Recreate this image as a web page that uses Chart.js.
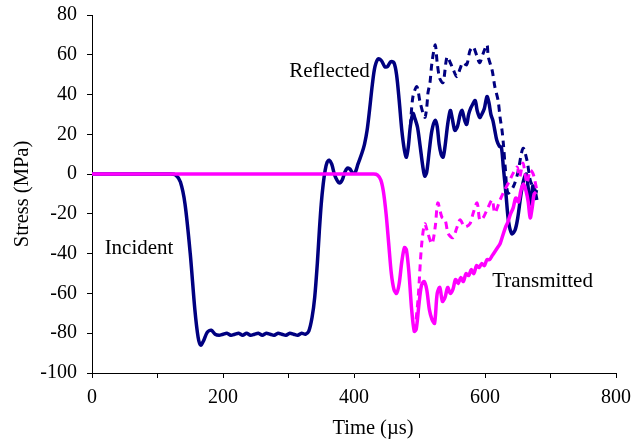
<!DOCTYPE html>
<html>
<head>
<meta charset="utf-8">
<script src="https://cdn.jsdelivr.net/npm/chart.js@4.4.1/dist/chart.umd.min.js"></script>
<style>
html,body{margin:0;padding:0;background:#fff;}
#wrap{width:638px;height:440px;position:relative;}
</style>
</head>
<body>
<div id="wrap"><canvas id="c" width="638" height="440"></canvas></div>
<script>
// Incident + reflected wave (solid navy)
const incRefTime = [0,120,128,135,142,150,157,162,166,170,176,182,188,194,200,206,212,218,224,230,236,242,248,254,260,266,272,278,284,290,296,302,308,314,320,326,331,336,340,344,347,350,353,356,359,362,366,370,374,378,382,386,390,394,398,402,406,412,416,420,424,428,432,437,442,447,451,456,461,465,469,473,477,480,483,486,490,493,497,501,505,508,511,515,519,524,527,530,533,536,539,543,547,550,554,558,562,565,569,572,575,578,581,585,588,592,595,599,603,606,609,612,615,618,622,625,628,632,636,641,646,650,655,659,663,667,670,673,676,679];
const incRefStress = [0,0,-0.5,-4,-15,-40,-68,-82,-86,-84,-79.5,-78.5,-80.5,-81,-80.5,-80,-81,-80.5,-80,-81,-80,-81,-80.5,-80,-81,-80,-80.5,-81,-80,-80.5,-81,-80,-80.5,-81,-80,-80.5,-79,-72,-62,-45,-29,-15,-5,2,6,7,5,0,-3,-4.5,-3,1,3,2.5,0.5,1,5,10.5,15,22,33,45,54,58,57,54,54,56.5,56,50,37,22,12,8.5,14,24,30.5,28,23.5,14,4,-1,1,12,22,27,24,15,10,8.5,14,25,32,28,22,24,30,32,27,25,30,33,35,37,32,28.5,30,33,39,36,30,27,22,17,14,13.5,3.5,-10,-24,-30,-28,-22,-10,-3,0,-10,-15,-6,-8,-13];

// Reflected wave, second record (dashed navy)
const refDashTime = [486,490,496,501,508,511,513,516,519,524,527,531,536,542,547,551,557,562,566,572,577,582,588,592,597,603,605,611,615,620,623,626,628,631,635,643,650,658,664,669,673,676,679];
const refDashStress = [24,39,44,36,28.5,33.5,41,46,56,65,56,48,46,59,56,53,49,53,56,55,62,64,59,56,60.5,65,59,52,44,37,28.5,22,15.5,3,-9.5,-6.5,0.5,13,7,-3,-6.5,-11.5,-8];

// Transmitted wave (solid magenta)
const transTime = [0,430,436,441,445,449,453,457,461,465,469,473,477,480,484,488,492,495,499,503,507,511,515,519,523,527,531,535,539,543,547,551,555,559,563,567,571,575,579,583,587,591,595,599,603,607,611,615,619,623,627,631,635,639,643,647,651,655,659,663,666,669,672,675,678];
const transStress = [0,0,-0.5,-3,-9,-20,-35,-50,-58,-60,-55,-44,-37,-38,-50,-68,-79,-78,-66,-56,-54,-58,-68,-73,-75,-60,-57,-64,-62,-57,-60,-58,-53,-55,-52,-54,-50,-51,-48,-50,-46,-47,-45,-46,-43,-43,-41,-39,-37,-35,-31,-27,-24,-20,-17,-12,-14,-8,-5,-9,-14,-22,-17,-10,-9];

// Transmitted wave, second record (dashed magenta)
const transDashTime = [493,498,503,508,513,519,524,528,534,539,544,551,557,562,569,577,582,588,592,597,603,611,615,623,630,638,643,649,653,658,664,669,673,676,679];
const transDashStress = [-79,-62,-36.5,-25,-30,-35,-26.5,-14.5,-21.5,-23,-30,-32,-27,-23,-26.5,-25,-19.5,-14.5,-23,-22,-18,-13,-19.5,-13,-8,-3,0.5,3.5,-1.5,5.5,-4.5,2,0.5,-3,-8];

const xTicks = [0,100,200,300,400,500,600,700,800];
const yTicks = [-100,-80,-60,-40,-20,0,20,40,60,80];

const labels = [
  {text:'Reflected', x:362.6, y:48.8},
  {text:'Incident', x:71.8, y:-40.2},
  {text:'Transmitted', x:687.8, y:-56.8}
];

const FONT = "'Liberation Serif', 'Times New Roman', serif";
const pts = (xs, ys) => xs.map((x, i) => ({x: x, y: ys[i]}));

const NAVY = '#000080', MAG = '#FF00FF';

const textPlugin = {
  id: 'texts',
  afterDraw(chart) {
    const ctx = chart.ctx, xs = chart.scales.x, ys = chart.scales.y;
    ctx.save();
    ctx.fillStyle = '#000';
    ctx.textAlign = 'center';
    ctx.textBaseline = 'alphabetic';
    ctx.font = '21px ' + FONT;
    labels.forEach(l => ctx.fillText(l.text, xs.getPixelForValue(l.x), ys.getPixelForValue(l.y)));
    // axis titles
    ctx.font = '20.5px ' + FONT;
    ctx.fillText('Time (\u00b5s)', 373, 434);
    ctx.translate(28, 194);
    ctx.rotate(-Math.PI / 2);
    ctx.fillText('Stress (MPa)', 0, 0);
    ctx.restore();
  }
};

new Chart(document.getElementById('c'), {
  type: 'scatter',
  data: {
    datasets: [
      {data: pts(transTime, transStress), borderColor: MAG, borderWidth: 3.5, showLine: true, pointRadius: 0, tension: 0.3},
      {data: pts(transDashTime, transDashStress), borderColor: MAG, borderWidth: 3, borderDash: [7, 5], showLine: true, pointRadius: 0, tension: 0.3},
      {data: pts(refDashTime, refDashStress), borderColor: NAVY, borderWidth: 3, borderDash: [7, 5], showLine: true, pointRadius: 0, tension: 0.3},
      {data: pts(incRefTime, incRefStress), borderColor: NAVY, borderWidth: 3.5, showLine: true, pointRadius: 0, tension: 0.3}
    ]
  },
  options: {
    responsive: false,
    animation: false,
    devicePixelRatio: 1,
    layout: {padding: {left: 0, right: 22, top: 15, bottom: 0}},
    plugins: {legend: {display: false}, tooltip: {enabled: false}},
    scales: {
      x: {
        type: 'linear', min: 0, max: 800,
        afterBuildTicks: s => { s.ticks = xTicks.map(v => ({value: v})); },
        afterFit: s => { s.height = 67; s.paddingLeft = 0; s.paddingRight = 0; },
        border: {display: true, color: '#000', width: 1},
        grid: {display: true, drawOnChartArea: false, drawTicks: true, tickLength: 5, color: '#000'},
        ticks: {color: '#000', font: {family: FONT, size: 20}, padding: 8, maxRotation: 0, autoSkip: false,
          callback: v => (v % 200 === 0 ? String(v) : '')}
      },
      y: {
        type: 'linear', min: -100, max: 80,
        afterBuildTicks: s => { s.ticks = yTicks.map(v => ({value: v})); },
        afterFit: s => { s.width = 92; s.paddingTop = 0; s.paddingBottom = 0; },
        border: {display: true, color: '#000', width: 1},
        grid: {display: true, drawOnChartArea: false, drawTicks: true, tickLength: 5, color: '#000'},
        ticks: {color: '#000', font: {family: FONT, size: 20}, padding: 10, autoSkip: false,
          callback: v => String(v)}
      }
    }
  },
  plugins: [textPlugin]
});
</script>
</body>
</html>
